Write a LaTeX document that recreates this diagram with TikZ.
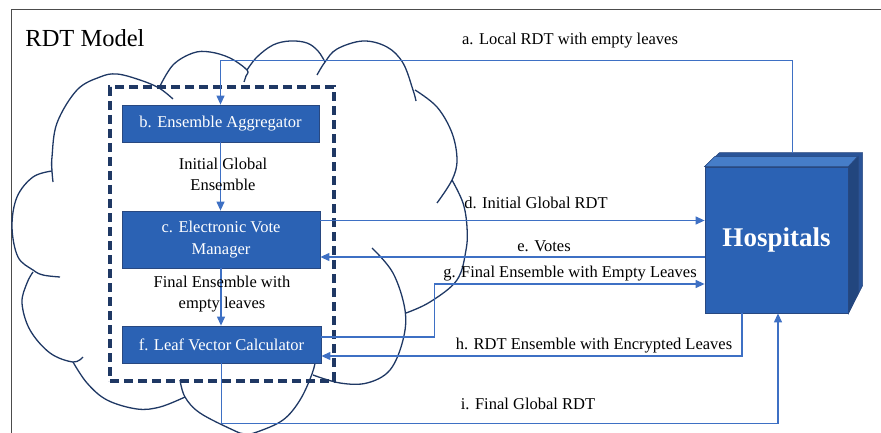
\documentclass[tikz,border=0pt]{standalone}
\usepackage{fontspec}
\setmainfont{Liberation Serif}
\usetikzlibrary{arrows.meta}
\definecolor{boxblue}{RGB}{43,98,180}
\definecolor{boxedge}{RGB}{40,72,128}
\definecolor{flowblue}{RGB}{62,112,196}
\definecolor{cloudnavy}{RGB}{31,56,100}
\definecolor{hosptop}{RGB}{70,125,200}
\definecolor{hospside}{RGB}{34,70,126}
\definecolor{hospback}{RGB}{42,84,152}

\begin{document}
\begin{tikzpicture}[x=1pt,y=-1pt,
    lbl/.style={font=\fontsize{16.5}{21}\selectfont, align=center, inner sep=0pt},
    unit/.style={draw=boxedge, line width=0.8pt, fill=boxblue, text=white,
                 font=\fontsize{16.5}{22}\selectfont, align=center, inner sep=0pt},
    flow/.style={draw=flowblue, line width=1.2pt, -{Triangle[length=9pt,width=8pt]}},
    puff/.style={draw=cloudnavy, line width=1.3pt, smooth, tension=0.6}]
    \useasboundingbox (0,0) rectangle (881,433);
    \draw[gray!60!black, line width=1pt] (11,433) -- (11,10) -- (881,10);
    \node[font=\fontsize{24.5}{28}\selectfont, inner sep=0pt] (T) at (85,38) {RDT Model};

    % cloud
    \begin{scope}
        \clip (0,0) rectangle (881,433);
        \draw[puff] plot coordinates {(53,182) (52,171) (52,157) (57,123) (77,90) (100,77) (117,74) (140,80) (159,88) (173,99)};
        \draw[puff] plot coordinates {(159,88) (173,65) (193,53) (210,52) (230,58) (247,70) (246,76) (244,82)};
        \draw[puff] plot coordinates {(247,70) (257,57) (273,45) (290,41) (307,43) (318,51) (325,62)};
        \draw[puff] plot coordinates {(317,75) (325,62) (337,49) (363,41) (387,47) (403,63) (413,90) (416,101)};
        \draw[puff] plot coordinates {(415,90) (437,107) (452,133) (457,160) (452,180) (437,203)};
        \draw[puff] plot coordinates {(452,180) (463,203) (467,227) (466,250) (457,280) (430,302) (406,313)};
        \draw[puff] plot coordinates {(372,248) (393,273) (405,310) (403,340) (390,370) (367,383) (340,383) (313,375)};
        \draw[puff] plot coordinates {(316,358) (312,374) (300,400) (283,420) (257,432) (245,434) (233,430) (200,413) (185,397) (180,380)};
        \draw[puff] plot coordinates {(185,397) (160,407) (137,409) (107,400) (87,383) (73,362)};
        \draw[puff] plot coordinates {(83,357) (73,362) (50,353) (30,330) (22,303) (27,283) (33,272)};
        \draw[puff] plot coordinates {(60,277) (43,275) (33,270) (18,257) (12,227) (17,197) (33,177) (52,171)};
    \end{scope}

    \node[draw=cloudnavy, line width=3.2pt, dash pattern=on 9pt off 5pt,
          minimum width=224, minimum height=294, inner sep=0pt] (M) at (222,234) {};

    \node[unit, minimum width=197, minimum height=37] (B) at (220.5,123.5) {b. Ensemble Aggregator};
    \node[unit, minimum width=198, minimum height=57] (C) at (221,239.5) {c. Electronic Vote\\Manager};
    \node[unit, minimum width=199, minimum height=37] (F) at (221.5,344.5) {f. Leaf Vector Calculator};

    \node[unit, minimum width=143, minimum height=146, font=\fontsize{27}{30}\selectfont\bfseries] (H) at (776.5,240) {Hospitals};
    \filldraw[fill=hospback, draw=boxedge, line width=0.6pt] (H.north west) -- ++(15,-14) -- ++(143,0) -- ++(0,133) -- (H.south east) -- (H.north east) -- cycle;
    \filldraw[fill=hosptop, draw=boxedge, line width=0.6pt] (H.north west) -- ++(10,-10) -- ++(143,0) -- (H.north east) -- cycle;
    \filldraw[fill=hospside, draw=boxedge, line width=0.6pt] (H.north east) -- ++(10,-10) -- ++(0,136) -- (H.south east) -- cycle;

    \draw[flow] ([xshift=16pt,yshift=14pt]H.north) -- ++(0,-92) -| (B.north);
    \draw[flow] (B.south) -- (B.south |- C.north);
    \draw[flow] (C.south) -- (C.south |- F.north);
    \draw[flow] ([yshift=19pt]C.east) -- ([yshift=19pt]C.east -| H.west);
    \draw[flow] ([yshift=-17pt]H.west) -- ([yshift=-17pt]H.west -| C.east);
    \draw[flow] ([yshift=7.5pt]F.east) -- ++(113,0) |- ([yshift=-44pt]H.west);
    \draw[flow] ([xshift=-34.5pt]H.south) |- ([yshift=-11.5pt]F.east);
    \draw[flow] (F.south) -- ++(0,60) -| ([xshift=1.5pt]H.south);

    \node[lbl] (La) at (570,41) {a. Local RDT with empty leaves};
    \node[lbl] (Lb) at (223,174) {Initial Global\\Ensemble};
    \node[lbl] (Lc) at (222,294) {Final Ensemble with\\empty leaves};
    \node[lbl] (Ld) at (536,203) {d. Initial Global RDT};
    \node[lbl] (Le) at (544,246) {e. Votes};
    \node[lbl] (Lg) at (570,274) {g. Final Ensemble with Empty Leaves};
    \node[lbl] (Lh) at (594,346) {h. RDT Ensemble with Encrypted Leaves};
    \node[lbl] (Li) at (528,404) {i. Final Global RDT};
\end{tikzpicture}
\end{document}
